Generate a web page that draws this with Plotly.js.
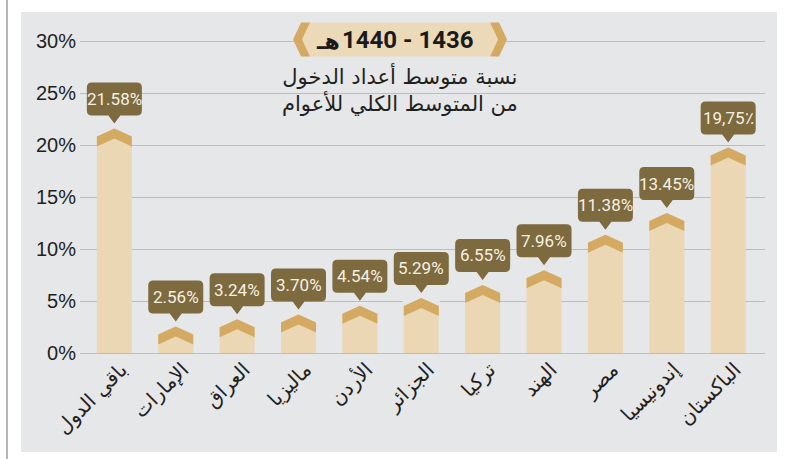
<!DOCTYPE html>
<html>
<head>
<meta charset="utf-8">
<script src="https://cdn.plot.ly/plotly-3.0.1.min.js"></script>
<style>html,body{margin:0;padding:0;background:#fff;}</style>
</head>
<body>
<div id="chart" style="width:787px;height:459px;"></div>
<script>
// ---- data ----
const categories = ['باقي الدول','الإمارات','العراق','ماليزيا','الأردن','الجزائر','تركيا','الهند','مصر','إندونيسيا','الباكستان'];
const values = [21.58, 2.56, 3.24, 3.70, 4.54, 5.29, 6.55, 7.96, 11.38, 13.45, 19.75];
const valueLabels = ['21.58%','2.56%','3.24%','3.70%','4.54%','5.29%','6.55%','7.96%','11.38%','13.45%','19,75٪'];
const yTicks = [0, 5, 10, 15, 20, 25, 30];
const yTickText = ['0%', '5%', '10%', '15%', '20%', '25%', '30%'];
const titleYears = '1440 - 1436';
const titleHijri = 'هـ';
const subtitleLines = ['نسبة متوسط أعداد الدخول', 'من المتوسط الكلي للأعوام'];

// ---- styles ----
const PANEL = '#e6e7e8';
const LIGHT = '#ebd7b4';
const DARK = '#d4aa63';
const LABEL = '#7d6a3e';
const TEXT = '#231f20';
const ARABIC = 'DejaVu Sans, Noto Sans, sans-serif';

const idx = categories.map((c, i) => i);

const shapes = [];
// panel background
shapes.push({type:'rect', xref:'paper', yref:'paper', layer:'below',
  x0:-0.0861, x1:1.0175, y0:-0.2929, y1:1.0089, fillcolor:PANEL, line:{width:0}});
// left rule
shapes.push({type:'line', xref:'paper', yref:'paper', layer:'below',
  x0:-0.1066, x1:-0.1066, y0:-0.32, y1:1.05, line:{color:'#b5b5b5', width:2}});

// bar caps and value label boxes
idx.forEach(i => {
  const v = values[i];
  const base = {type:'path', xref:'x', yref:'y', xsizemode:'pixel', ysizemode:'pixel',
    xanchor:i, yanchor:v, layer:'above', line:{width:0}};
  shapes.push(Object.assign({}, base, {fillcolor:PANEL,
    path:'M -18.5,0.5 L 0,0.5 L 0,0 L -18.5,-8.4 Z'}));
  shapes.push(Object.assign({}, base, {fillcolor:PANEL,
    path:'M 18.5,0.5 L 0,0.5 L 0,0 L 18.5,-8.4 Z'}));
  shapes.push(Object.assign({}, base, {fillcolor:DARK,
    path:'M -17.5,-8 L 0,0 L 17.5,-8 L 17.5,-18 L 0,-10 L -17.5,-18 Z'}));
  shapes.push(Object.assign({}, base, {fillcolor:LABEL,
    path:'M 0,5 L -6,13 L -22.5,13 Q -27.5,13 -27.5,18 L -27.5,41 Q -27.5,46 -22.5,46 ' +
         'L 22.5,46 Q 27.5,46 27.5,41 L 27.5,18 Q 27.5,13 22.5,13 L 6,13 Z'}));
});

// title banner
const bx = 0.4672, by = 0.9275;
const bannerBase = {type:'path', xref:'paper', yref:'paper', xsizemode:'pixel', ysizemode:'pixel',
  xanchor:bx, yanchor:by, layer:'above', line:{width:0}};
shapes.push(Object.assign({}, bannerBase, {fillcolor:'#ecd9b8',
  path:'M -90,17 L 90,17 L 98,0 L 90,-17 L -90,-17 L -98,0 Z'}));
shapes.push(Object.assign({}, bannerBase, {fillcolor:DARK,
  path:'M -99,17 L -90,17 L -98,0 L -90,-17 L -99,-17 L -107,0 Z'}));
shapes.push(Object.assign({}, bannerBase, {fillcolor:DARK,
  path:'M 99,17 L 90,17 L 98,0 L 90,-17 L 99,-17 L 107,0 Z'}));

const annotations = idx.map(i => ({
  x:i, y:values[i], xref:'x', yref:'y', text:valueLabels[i], showarrow:false,
  yshift:29.5, xanchor:'center', yanchor:'middle',
  font:{family:'Roboto, sans-serif', size:17, color:'#f7f0e2'}
}));
annotations.push({x:bx, y:by, xref:'paper', yref:'paper', text:titleYears, showarrow:false,
  xanchor:'left', yanchor:'middle', xshift:-60,
  font:{family:'Roboto, sans-serif', size:24, color:'#1a1a1a', weight:'bold'}});
annotations.push({x:bx, y:by, xref:'paper', yref:'paper', text:titleHijri, showarrow:false,
  xanchor:'right', yanchor:'middle', xshift:-58, yshift:-2,
  font:{family:ARABIC, size:22, color:'#1a1a1a', weight:'bold'}});
annotations.push({x:bx, y:by, xref:'paper', yref:'paper', text:subtitleLines.join('<br>'),
  showarrow:false, xanchor:'center', yanchor:'top', yshift:-21,
  font:{family:ARABIC, size:21, color:TEXT}});

const trace = {
  type:'bar', x:idx, y:values, width:0.57,
  marker:{color:LIGHT, line:{width:0}},
  hoverinfo:'skip'
};

const layout = {
  width:787, height:459,
  margin:{l:80, r:22, t:15, b:106, pad:0},
  paper_bgcolor:'#ffffff', plot_bgcolor:'rgba(0,0,0,0)',
  showlegend:false,
  xaxis:{
    type:'linear', range:[-0.56, 10.6], tickmode:'array', tickvals:idx, ticktext:categories,
    tickangle:-45, showgrid:false, zeroline:false, showline:false, ticks:'',
    ticklabelshift:7,
    tickfont:{family:ARABIC, size:20, color:TEXT}, fixedrange:true
  },
  yaxis:{
    range:[0, 32.5], tickmode:'array', tickvals:yTicks, ticktext:yTickText,
    showgrid:true, gridcolor:'#bdbdbd', gridwidth:1,
    zeroline:true, zerolinecolor:'#bdbdbd', zerolinewidth:1, showline:false, ticks:'',
    ticklabelstandoff:3,
    tickfont:{family:'Liberation Sans, Arial, sans-serif', size:20, color:TEXT}, fixedrange:true
  },
  shapes:shapes,
  annotations:annotations
};

Plotly.newPlot('chart', [trace], layout, {displayModeBar:false, staticPlot:true});
</script>
</body>
</html>
